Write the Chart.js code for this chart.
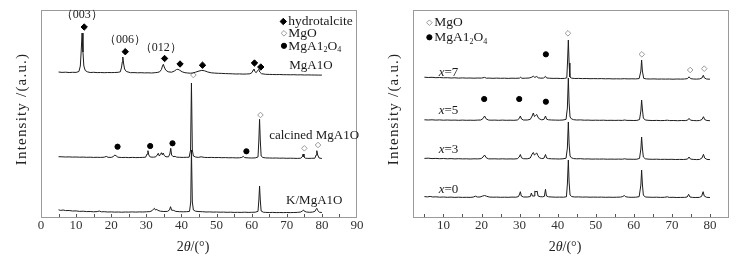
<!DOCTYPE html>
<html><head><meta charset="utf-8">
<script src="https://cdn.jsdelivr.net/npm/chart.js@4/dist/chart.umd.min.js"></script>
<style>
html,body{margin:0;padding:0;background:#fff;}
#wrap{position:relative;width:744px;height:263px;overflow:hidden;}
.c{position:absolute;top:0;width:372px;height:263px;}
</style></head><body>
<div id="wrap">
<div class="c" style="left:0"><canvas id="left" width="372" height="263"></canvas></div>
<div class="c" style="left:372px"><canvas id="right" width="372" height="263"></canvas></div>
</div>
<script>
// ---------------- DATA (2θ in degrees, intensity in a.u. relative to each trace's baseline) -------------
const leftTicks = [0,10,20,30,40,50,60,70,80,90];
const rightTicks = [10,20,30,40,50,60,70,80];

// Left panel: stacking offsets
const offMgAlO = 142, offCalcined = 58, offK = 4;
// Right panel: stacking offsets
const offX7 = 137, offX5 = 95, offX3 = 56, offX0 = 18;

const mgalo = [[5,4],[6,3.6],[7,3.8],[8,3.5],[9,3.7],[10,3.6],[10.8,4.5],[11.2,10],[11.45,25],[11.7,43],[11.95,24],[12.2,10],[12.6,5.5],[13.2,4.2],[14,3.5],[15,3.7],[16,3.4],[17,3.5],[18,3.3],[19,3.5],[20,3.4],[21,3.5],[22,3.7],[22.6,4.2],[22.95,9],[23.15,14],[23.3,19],[23.5,13],[23.8,7],[24.3,4.5],[25.5,3.3],[26.5,3.4],[27.5,3.2],[28.5,3.3],[29.5,3.1],[30.5,3.2],[31.5,3],[32.5,3.3],[33.3,3.7],[33.8,4.2],[34.3,6.5],[34.6,10],[34.85,11.7],[35.1,9],[35.5,6],[36.2,4.2],[37.2,3.8],[38.0,5],[38.6,6.5],[39.0,6.7],[39.5,5.8],[40.2,4.2],[41,3.3],[41.8,3],[42.5,2.8],[43.2,3],[44,3.8],[45,5],[45.8,5.6],[46.6,5.2],[47.5,4],[48.5,3.2],[49.5,2.9],[50.5,2.7],[51.5,2.6],[52.5,2.4],[53.5,2.3],[54.5,2.2],[55.5,2],[56.5,2.1],[57.5,1.9],[58.5,2],[59.5,2.2],[60.1,3.5],[60.45,6],[60.65,7],[60.9,4.5],[61.3,3.3],[61.7,5.5],[62.0,6.6],[62.3,4],[62.8,2.3],[64,1.7],[65,1.6],[66,1.5],[67,1.4],[68,1.5],[69,1.3],[70,1.3],[71,1.2],[72,1.3],[73,1.1],[74,1.2],[75,1],[76,1.1],[77,1],[78,1],[79,0.9],[80,0.9]];

const calcined = [[5,3.3],[6,3.2],[7,3],[8,3.1],[9,2.9],[10,3],[11,2.8],[12,2.9],[13,2.7],[14,2.8],[15,2.6],[16,2.7],[17,2.6],[18,2.8],[18.6,3.6],[19.1,2.7],[20,2.6],[20.6,3.4],[21.0,5],[21.4,4.2],[21.9,2.8],[23,2.5],[24,2.6],[25,2.4],[26,2.6],[27,2.4],[28,2.5],[29,2.6],[29.8,2.8],[30.2,6],[30.45,9.3],[30.7,5],[31.1,3],[32,2.8],[32.7,3.2],[33.1,5],[33.4,6.7],[33.7,4],[34.0,5.5],[34.3,7.3],[34.55,5.2],[34.8,7],[35.1,4.5],[35.6,3.2],[36.3,3.2],[36.7,6],[36.95,11.7],[37.2,5],[37.6,3.4],[38.2,3.6],[38.6,2.9],[39.5,2.7],[40.5,2.6],[41.5,2.7],[42.2,2.8],[42.6,10],[42.85,77],[43.1,10],[43.4,4],[44,3],[44.8,2.6],[45.6,3.2],[46.5,2.6],[47.5,2.5],[48.5,2.6],[49.5,2.4],[50.5,2.5],[51.5,2.3],[52.5,2.4],[53.5,2.2],[54.5,2.3],[55.5,2.1],[56.5,2.2],[57.2,2.6],[57.6,3.6],[58.0,2.4],[59,2.1],[60,2],[61,2.1],[61.8,3],[62.05,20],[62.25,40.7],[62.45,20],[62.7,4],[63.2,2.5],[64,2.1],[65,2],[66,1.9],[67,2],[68,1.8],[69,1.9],[70,1.7],[71,1.8],[72,1.7],[73,1.6],[74,1.8],[74.4,3],[74.65,6],[74.9,3],[75.3,1.8],[76,1.6],[77,1.7],[78,1.8],[78.35,5],[78.55,9.3],[78.8,5],[79.2,2],[80,1.5]];

const kMgAlO = [[5,4.2],[5.6,3.6],[6.3,4],[7,3.4],[8,3.5],[9,3],[10,3.1],[11,2.6],[12,2.8],[13,2.4],[14,2.5],[15,2.2],[16,2.4],[16.6,3],[17.2,2.2],[18,2.3],[19,2],[20,2.1],[21,1.9],[22,2],[23,1.8],[24,2],[25,1.9],[26,2.1],[27,1.9],[28,2.1],[29,2],[30,2.2],[31,2.4],[31.6,3.2],[32.0,4.8],[32.3,5.7],[32.6,4],[33.0,4.6],[33.3,3.6],[34,2.8],[35,2.5],[36,2.6],[36.6,4],[36.9,7.3],[37.2,3.8],[37.8,3.6],[38.4,2.6],[39.5,2.3],[40.5,2.2],[41.5,2.3],[42.3,2.6],[42.65,12],[42.85,64],[43.1,12],[43.4,4],[44,2.8],[45,2.4],[46,2.3],[47,2],[48,2.1],[49,1.9],[50,2],[51,1.8],[52,1.9],[53,1.7],[54,1.8],[55,1.6],[56,1.7],[57,1.6],[58,1.8],[59,1.6],[60,1.7],[61,1.8],[61.8,2.6],[62.05,14],[62.25,28],[62.45,14],[62.7,3],[63.3,1.8],[64,1.6],[65,1.5],[66,1.6],[67,1.4],[68,1.5],[69,1.4],[70,1.5],[71,1.4],[72,1.5],[73,1.6],[74,2],[74.5,3.2],[74.75,4],[75.0,2.8],[75.6,2],[76.5,1.7],[77.3,1.9],[78.0,2.6],[78.3,4.5],[78.55,5.7],[78.8,3.5],[79.3,1.8],[80,1.5]];

const x7 = [[5,3.8],[6,3.5],[7,3.7],[8,3.3],[9,3.5],[10,3.2],[11,3.3],[12,3],[13,3.2],[14,2.9],[15,3.1],[16,2.9],[17,3],[18,2.8],[19,3],[20,2.9],[20.8,3.6],[21.3,2.8],[22,2.9],[23,2.7],[24,2.9],[25,2.7],[26,2.8],[27,2.6],[28,2.8],[29,2.7],[30,2.9],[30.3,3.8],[30.6,2.7],[31.5,2.8],[32.5,3],[33.2,3.8],[33.6,4.8],[34.0,3.6],[34.5,4.5],[34.9,3.2],[35.6,2.8],[36.3,3],[36.8,4.6],[37.1,3],[37.8,2.8],[38.8,2.6],[39.8,2.7],[40.8,2.5],[41.8,2.6],[42.4,3.2],[42.6,20],[42.8,41],[43.0,18],[43.2,4],[43.7,2.8],[44.5,2.5],[45.5,2.6],[46.5,2.4],[47.5,2.5],[48.5,2.3],[49.5,2.4],[50.5,2.3],[51.5,2.4],[52.5,2.2],[53.5,2.3],[54.5,2.1],[55.5,2.2],[56.5,2.1],[57.5,2.3],[58.5,2.1],[59.5,2.2],[60.5,2.1],[61.4,2.4],[61.85,10],[62.05,21],[62.25,10],[62.6,2.6],[63.3,2.1],[64.3,2],[65.3,2.1],[66.3,1.9],[67.3,2],[68.3,1.9],[69.3,2],[70.3,1.8],[71.3,2],[72.3,1.9],[73.3,2],[74.1,2.4],[74.5,4.2],[74.9,2.4],[75.6,2],[76.5,1.9],[77.3,2.1],[77.9,3],[78.25,5.7],[78.55,3],[79.1,2],[80,1.8]];

const x5 = [[5,3.2],[6,3],[7,3.2],[8,2.9],[9,3.1],[10,2.8],[11,3],[12,2.8],[13,2.9],[14,2.7],[15,2.9],[16,2.7],[17,2.8],[18,2.7],[19,2.9],[19.8,3],[20.4,4.5],[20.8,7],[21.2,4.2],[21.8,3],[22.5,2.8],[23.5,2.9],[24.5,2.7],[25.5,2.9],[26.5,2.7],[27.5,2.8],[28.5,2.7],[29.4,3],[29.9,4.5],[30.2,7],[30.5,4],[31,3],[32,3],[32.8,3.6],[33.3,7],[33.6,10],[33.9,6.5],[34.2,7.5],[34.5,8.5],[34.8,6],[35.2,4],[35.8,3.2],[36.4,3.6],[36.8,7],[37.1,3.8],[37.6,3.2],[38.4,3],[39.4,2.9],[40.4,2.8],[41.4,3],[42.2,3.6],[42.55,15],[42.8,45],[43.0,20],[43.25,6],[43.6,4.2],[44.2,3.3],[45,3],[46,3.1],[47,2.8],[48,2.9],[49,2.7],[50,2.8],[51,2.7],[52,2.8],[53,2.6],[54,2.7],[55,2.6],[56,2.7],[57,2.6],[57.6,3],[58.2,2.6],[59,2.6],[60,2.5],[60.8,2.6],[61.5,3.4],[61.85,12],[62.05,23],[62.25,14],[62.5,5],[63,3],[64,2.6],[65,2.5],[66,2.6],[67,2.4],[68,2.5],[68.8,2.8],[69.4,2.4],[70.5,2.5],[71.5,2.3],[72.5,2.5],[73.5,2.4],[74.1,2.8],[74.5,4.6],[74.9,2.8],[75.6,2.5],[76.5,2.3],[77.3,2.5],[77.9,3.5],[78.3,6.3],[78.6,3.5],[79.2,2.5],[80,2.3]];

const x3 = [[5,3.6],[6,3.8],[7,3.4],[8,3.6],[9,3.3],[10,3.5],[11,3.2],[12,3.4],[13,3.1],[14,3.3],[15,3.1],[16,3.2],[17,3],[18,3.2],[19,3.1],[19.9,3.4],[20.4,5],[20.8,7],[21.2,4.4],[21.8,3.2],[22.5,3.1],[23.5,3.2],[24.5,3],[25.5,3.2],[26.5,3],[27.5,3.1],[28.5,3],[29.4,3.3],[29.9,5],[30.2,7.5],[30.5,4.2],[31,3.3],[32,3.2],[32.8,4],[33.3,8],[33.6,9.5],[33.9,7],[34.2,8],[34.5,9],[34.8,6.4],[35.2,4.2],[35.8,3.4],[36.4,3.8],[36.8,7.5],[37.1,4],[37.6,3.4],[38.4,3.2],[39.4,3.1],[40.4,3],[41.4,3.2],[42.2,3.8],[42.55,14],[42.8,40],[43.0,18],[43.25,6],[43.6,4.2],[44.2,3.4],[45,3.2],[46,3.3],[47,3],[48,3.1],[49,2.9],[50,3],[51,2.9],[52,3],[53,2.8],[54,2.9],[55,2.8],[56,2.9],[57,2.8],[57.6,3.2],[58.2,2.8],[59,2.8],[60,2.7],[60.8,2.8],[61.5,3.6],[61.85,13],[62.05,25],[62.25,14],[62.5,5],[63,3.2],[64,2.8],[65,2.7],[66,2.8],[67,2.6],[68,2.7],[69,2.6],[70,2.7],[71,2.5],[72,2.6],[73,2.5],[74.1,2.9],[74.5,5],[74.9,2.9],[75.6,2.6],[76.5,2.4],[77.3,2.6],[77.9,4],[78.3,7.7],[78.6,4],[79.2,2.6],[80,2.4]];

const x0 = [[5,3.4],[5.8,3.1],[6.5,3.6],[7.2,3],[8,3.2],[9,2.8],[10,3],[11,2.7],[12,2.9],[13,2.6],[14,2.8],[15,2.6],[16,2.7],[17,2.6],[17.8,2.9],[18.4,3.8],[18.9,3],[19.6,3],[20.3,4],[20.8,4.5],[21.3,3.8],[22,3],[23,2.8],[24,2.9],[25,2.7],[26,2.8],[27,2.7],[28,2.9],[29,2.8],[29.7,3.4],[30.0,6],[30.2,8.3],[30.45,4],[31,3],[32,3],[32.8,3.4],[33.1,7],[33.35,4],[33.8,4],[34.0,9],[34.3,8],[34.6,9],[34.85,4],[35.4,3.3],[36,3.2],[36.5,3.6],[36.8,10.7],[37.05,4],[37.6,3.2],[38.5,3],[39.5,2.8],[40.5,2.9],[41.5,2.8],[42.3,3.2],[42.55,16],[42.8,40],[43.0,18],[43.25,5],[43.7,3.4],[44.5,3],[45.5,3.1],[46.5,2.9],[47.5,3],[48.5,2.8],[49.5,2.9],[50.5,2.8],[51.5,2.9],[52.5,2.7],[53.5,2.8],[54.5,2.7],[55.5,2.8],[56.5,2.9],[57.1,3.5],[57.5,4.5],[57.9,3.2],[58.6,2.8],[59.5,2.7],[60.5,2.8],[61.4,3.3],[61.85,15],[62.05,30],[62.25,16],[62.5,5],[63,3],[64,2.8],[65,2.7],[66,2.8],[67,2.6],[68,2.7],[68.8,3.2],[69.3,2.6],[70.3,2.7],[71.3,2.5],[72.3,2.6],[73.3,2.6],[74.0,3],[74.4,5.7],[74.75,3],[75.4,2.6],[76.3,2.5],[77.2,2.6],[77.8,3.6],[78.2,8.3],[78.5,4],[79.1,2.7],[80,2.5]];

// Phase markers (2θ, plotted height on the stacked scale)
const leftHydrotalcite = [[12.3,191],[24.0,166.3],[35.2,159.5],[39.6,154],[46.0,152.8],[60.8,155],[62.6,151]];
const leftMgO = [[43.4,143],[62.5,103],[75.0,69.7],[78.9,73]];
const leftSpinel = [[21.8,71.3],[31.1,72],[37.45,74.7],[58.5,66.7]];
const rightMgO = [[42.7,184.7],[62.1,163.7],[74.8,148],[78.5,149.3]];
const rightSpinel = [[36.9,163.7],[20.7,119],[29.9,119],[36.9,116.3]];

// ---------------- STYLE / LAYOUT -------------
const FONT = "'Liberation Serif','Times New Roman',serif";
const LINE = '#1c1c1c';
const FRAME = '#9a9a9a';
const GREY = '#9a9a9a';

function fontFor(style, size){
  if (style === 'i') return `italic ${size}px ${FONT}`;
  if (style === 'sub') return `${Math.round(size*0.62)}px ${FONT}`;
  return `${size}px ${FONT}`;
}
function drawRich(ctx, segs, x, y, align, size, color){
  const widths = segs.map(([t,s]) => { ctx.font = fontFor(s,size); return ctx.measureText(t).width; });
  const total = widths.reduce((a,b)=>a+b,0);
  let cx = align==='center' ? x-total/2 : align==='right' ? x-total : x;
  ctx.textBaseline = 'middle'; ctx.textAlign = 'left'; ctx.fillStyle = color || '#1a1a1a';
  segs.forEach(([t,s],i) => { ctx.font = fontFor(s,size); ctx.fillText(t, cx, s==='sub' ? y+size*0.32 : y); cx += widths[i]; });
}
const SPINEL = [['MgA1',''],['2','sub'],['O',''],['4','sub']];

const deco = {
  id: 'deco',
  beforeDatasetsDraw(chart, args, o){
    const {ctx, chartArea:a, scales:{x}} = chart;
    ctx.save();
    ctx.strokeStyle = FRAME; ctx.lineWidth = 1;
    ctx.strokeRect(Math.round(a.left)+0.5, Math.round(a.top)+0.5, Math.round(a.right-a.left)-1, Math.round(a.bottom-a.top)-1);
    ctx.strokeStyle = '#555';
    o.minor.forEach(v => {
      const px = Math.round(x.getPixelForValue(v))+0.5;
      ctx.beginPath(); ctx.moveTo(px, a.bottom-1); ctx.lineTo(px, a.bottom-4); ctx.stroke();
    });
    ctx.restore();
  },
  afterDatasetsDraw(chart, args, o){
    const {ctx, chartArea:a, scales:{x,y}} = chart;
    ctx.save();
    // legend symbols
    o.legend.forEach(L => {
      const px = x.getPixelForValue(L.x), py = y.getPixelForValue(L.y);
      ctx.fillStyle = L.fill; ctx.strokeStyle = L.stroke; ctx.lineWidth = 1;
      Chart.helpers.drawPoint(ctx, {pointStyle:L.style, radius:L.r, borderWidth:1}, px, py);
    });
    o.texts.forEach(T => {
      drawRich(ctx, T.segs, x.getPixelForValue(T.x), y.getPixelForValue(T.y), T.align, T.size, '#1a1a1a');
    });
    // axis titles
    drawRich(ctx, [['2',''],['θ','i'],['/(°)','']], (a.left+a.right)/2 - 6, a.bottom + 29, 'center', 14, '#222');
    ctx.translate(22, 109);
    ctx.rotate(-Math.PI/2);
    ctx.font = `15px ${FONT}`; ctx.fillStyle = '#222'; ctx.textAlign = 'left'; ctx.textBaseline = 'middle';
    try { ctx.letterSpacing = '1.2px'; } catch(e) {}
    const w = ctx.measureText('Intensity /(a.u.)').width;
    ctx.fillText('Intensity /(a.u.)', -w/2, 0);
    ctx.restore();
  }
};

function line(pts, off){ return {type:'line', data: pts.map(([a,b]) => ({x:a, y:b+off})), borderColor: LINE, borderWidth: 1, pointRadius: 0, tension: 0, fill: false}; }
function marks(pts, style, r, bg, bc){ return {type:'scatter', data: pts.map(([a,b]) => ({x:a, y:b})), pointStyle: style, pointRadius: r, pointHoverRadius: r, backgroundColor: bg, borderColor: bc, borderWidth: 1, showLine: false}; }

function makeChart(id, datasets, xmin, xmax, ticks, minor, deco_opts){
  return new Chart(document.getElementById(id), {
    type: 'line',
    data: { datasets },
    options: {
      responsive: false, animation: false, devicePixelRatio: 1,
      layout: { padding: { left: 0, right: 15, top: 10, bottom: 0 } },
      plugins: { legend: {display:false}, tooltip: {enabled:false}, deco: deco_opts },
      scales: {
        x: { type:'linear', min:xmin, max:xmax,
             grid:{display:false, drawTicks:false}, border:{display:false},
             ticks:{ font:{family:FONT, size:13}, color:'#333', padding:0, maxRotation:0, autoSkip:false },
             afterBuildTicks(s){ s.ticks = ticks.map(v => ({value:v})); },
             afterFit(s){ s.height = 45; } },
        y: { type:'linear', min:0, max:208, display:true,
             grid:{display:false, drawTicks:false}, border:{display:false}, ticks:{display:false},
             afterFit(s){ s.width = 41; } }
      }
    },
    plugins: [deco]
  });
}

const leftMinor = [5,10,15,20,25,30,35,40,45,50,55,60,65,70,75,80,85];
makeChart('left', [
  line(mgalo, offMgAlO), line(calcined, offCalcined), line(kMgAlO, offK),
  marks(leftHydrotalcite, 'rectRot', 3.2, '#000', '#000'),
  marks(leftMgO, 'rectRot', 2.8, '#fff', GREY),
  marks(leftSpinel, 'circle', 2.6, '#000', '#000')
], 0, 90, leftTicks, leftMinor, {
  minor: leftMinor,
  legend: [
    {x:69.0, y:196.5, style:'rectRot', r:3.2, fill:'#000', stroke:'#000'},
    {x:69.2, y:184.7, style:'rectRot', r:2.8, fill:'#fff', stroke:GREY},
    {x:69.2, y:172.2, style:'circle', r:2.6, fill:'#000', stroke:'#000'}
  ],
  texts: [
    {segs:[['（003）','']], x:11.6, y:203, align:'center', size:12},
    {segs:[['（006）','']], x:23.9, y:178, align:'center', size:12},
    {segs:[['（012）','']], x:34.1, y:170.3, align:'center', size:12},
    {segs:[['hydrotalcite','']], x:70.4, y:196.3, align:'left', size:13.5},
    {segs:[['MgO','']], x:70.4, y:184.7, align:'left', size:13.5},
    {segs:SPINEL, x:70.4, y:172, align:'left', size:13.5},
    {segs:[['MgA1O','']], x:70.7, y:152, align:'left', size:13},
    {segs:[['calcined MgA1O','']], x:65.0, y:82, align:'left', size:13},
    {segs:[['K/MgA1O','']], x:69.8, y:17, align:'left', size:13}
  ]
});

const rightMinor = [5,10,15,20,25,30,35,40,45,50,55,60,65,70,75,80];
makeChart('right', [
  line(x7, offX7), line(x5, offX5), line(x3, offX3), line(x0, offX0),
  marks(rightMgO, 'rectRot', 2.8, '#fff', GREY),
  marks(rightSpinel, 'circle', 2.6, '#000', '#000')
], 2, 85, rightTicks, rightMinor, {
  minor: rightMinor,
  legend: [
    {x:6.3, y:195.3, style:'rectRot', r:2.8, fill:'#fff', stroke:GREY},
    {x:6.3, y:180.7, style:'circle', r:2.6, fill:'#000', stroke:'#000'}
  ],
  texts: [
    {segs:[['MgO','']], x:7.6, y:195.3, align:'left', size:13.5},
    {segs:SPINEL, x:7.6, y:180.5, align:'left', size:13.5},
    {segs:[['x','i'],['=7','']], x:8.75, y:145.3, align:'left', size:13},
    {segs:[['x','i'],['=5','']], x:8.75, y:107.3, align:'left', size:13},
    {segs:[['x','i'],['=3','']], x:8.75, y:68, align:'left', size:13},
    {segs:[['x','i'],['=0','']], x:8.75, y:28, align:'left', size:13}
  ]
});
</script>
</body></html>
